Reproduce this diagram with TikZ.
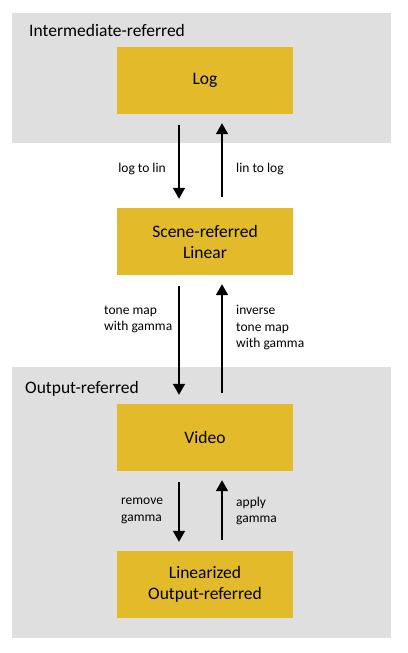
\documentclass[tikz,border=0pt]{standalone}
\usepackage{fontspec}
\setmainfont{Carlito}
\usetikzlibrary{arrows.meta}

\definecolor{regiongray}{HTML}{DFDFDF}
\definecolor{stateyellow}{HTML}{E3BB2A}

\begin{document}
\begin{tikzpicture}[
    x=1pt, y=-1pt,
    >={Triangle[width=12pt,length=11pt]},
    every node/.style={font=\fontsize{17.5}{21}\selectfont},
    region/.style={
        fill=regiongray,
        minimum width=379pt,
        inner sep=0pt
    },
    regionlbl/.style={anchor=base west, inner sep=0pt},
    state/.style={
        fill=stateyellow,
        minimum width=176pt, minimum height=67pt,
        inner sep=0pt, align=center
    },
    conv/.style={line width=1.6pt, shorten <=11pt, shorten >=9pt},
    convlbl/.style={font=\fontsize{13.5}{16.5}\selectfont, align=left, inner sep=0pt}
]

\useasboundingbox (0,0) rectangle (407,653);

% Bereiche
\node[region, minimum height=130pt] (interm) at (201.5,78) {};
\node[regionlbl] (intermlbl) at (29,36) {Intermediate-referred};

\node[region, minimum height=271pt] (output) at (201.5,502.5) {};
\node[regionlbl] (outputlbl) at (25,393) {Output-referred};

% Zustaende
\node[state] (log) at (205,80.5) {Log};
\node[state] (scene) at (205,241.5) {Scene-referred\\Linear};
\node[state] (video) at (205,437.5) {Video};
\node[state] (linout) at (205,584.5) {Linearized\\Output-referred};

% Log <-> Linear
\draw[conv, ->] ([xshift=-26pt]log.south) -- ([xshift=-26pt]scene.north);
\draw[conv, ->] ([xshift=17pt]scene.north) -- ([xshift=17pt]log.south);
\node[convlbl, anchor=east] (l2l) at (166,169) {log to lin};
\node[convlbl, anchor=west] (lin2log) at (236,169) {lin to log};

% Linear <-> Video
\draw[conv, ->] ([xshift=-26pt]scene.south) -- ([xshift=-26pt]video.north);
\draw[conv, ->] ([xshift=17pt]video.north) -- ([xshift=17pt]scene.south);
\node[convlbl, anchor=west] (tonemap) at (104,319.5) {tone map\\with gamma};
\node[convlbl, anchor=west] (invtonemap) at (236,328) {inverse\\tone map\\with gamma};

% Video <-> linearisiert
\draw[conv, ->] ([xshift=-26pt]video.south) -- ([xshift=-26pt]linout.north);
\draw[conv, ->] ([xshift=17pt]linout.north) -- ([xshift=17pt]video.south);
\node[convlbl, anchor=west] (remgamma) at (121,511) {remove\\gamma};
\node[convlbl, anchor=west] (appgamma) at (236,511) {apply\\gamma};

\end{tikzpicture}
\end{document}
